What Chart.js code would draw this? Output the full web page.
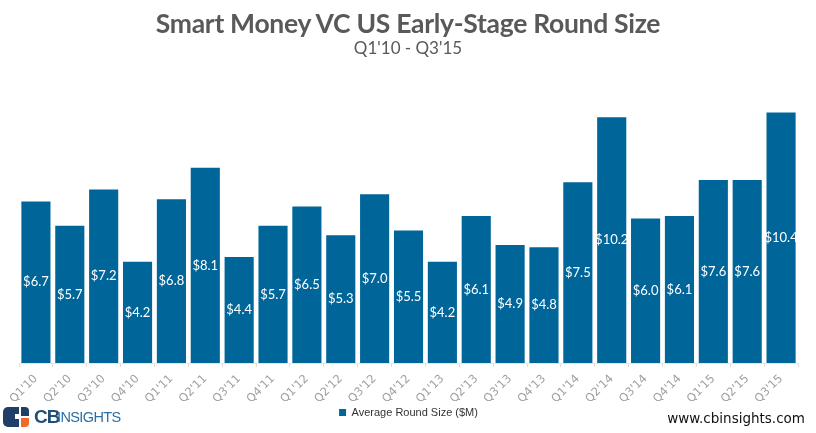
<!DOCTYPE html>
<html>
<head>
<meta charset="utf-8">
<script src="https://cdn.jsdelivr.net/npm/chart.js@4.4.1/dist/chart.umd.min.js"></script>
<style>
  html, body { margin: 0; padding: 0; background: #fff; }
  #wrap { position: relative; width: 816px; height: 433px; overflow: hidden; }
  #chart { position: absolute; left: 0; top: 0; }
  .title { position: absolute; left: 0; width: 816px; text-align: center; color: #595959; font-family: Lato, "Open Sans", sans-serif; }
  #t1 { top: 7px; font-size: 26.5px; font-weight: bold; letter-spacing: -0.3px; }
  #t2 { top: 37px; font-size: 17px; }
  #site { position: absolute; right: 11px; top: 410px; font-family: "DejaVu Sans", sans-serif; font-size: 13.5px; color: #111; }
  #logo { position: absolute; left: 3px; top: 405px; width: 110px; height: 24px; }
  #logo .cb { position: absolute; left: 31px; top: 1px; font-family: "Liberation Sans", Arial, sans-serif; font-weight: bold; font-size: 19px; color: #1f4e79; letter-spacing: -1px; }
  #logo .ins { position: absolute; left: 54px; top: 4px; font-family: "Liberation Sans", Arial, sans-serif; font-size: 14.5px; color: #2a6fa8; letter-spacing: -0.6px; }
</style>
</head>
<body>
<div id="wrap">
  <canvas id="chart" width="816" height="433"></canvas>
  <div class="title" id="t1">Smart Money VC US Early-Stage Round Size</div>
  <div class="title" id="t2">Q1'10 - Q3'15</div>
  <div id="logo">
    <svg width="27" height="22" style="position:absolute;left:0;top:1px">
      <rect x="0" y="1" width="16" height="20" rx="5" fill="#1f3f66"/>
      <rect x="9" y="1" width="7" height="20" fill="#1f3f66"/>
      <path d="M18 1 H22 A4 4 0 0 1 26 5 V10 H18 Z" fill="#1f3f66"/>
      <path d="M18 12 H26 V17 A4 4 0 0 1 22 21 H18 Z" fill="#f26a2a"/>
      <rect x="12" y="8" width="6" height="5" fill="#ffffff"/>
    </svg>
    <span class="cb">CB</span><span class="ins">INSIGHTS</span>
  </div>
  <div id="site">www.cbinsights.com</div>
</div>
<script>
const categories = ["Q1'10","Q2'10","Q3'10","Q4'10","Q1'11","Q2'11","Q3'11","Q4'11","Q1'12","Q2'12","Q3'12","Q4'12","Q1'13","Q2'13","Q3'13","Q4'13","Q1'14","Q2'14","Q3'14","Q4'14","Q1'15","Q2'15","Q3'15"];
const roundSize = [6.7,5.7,7.2,4.2,6.8,8.1,4.4,5.7,6.5,5.3,7.0,5.5,4.2,6.1,4.9,4.8,7.5,10.2,6.0,6.1,7.6,7.6,10.4];
const seriesName = "Average Round Size ($M)";

const barLabels = {
  id: 'barLabels',
  afterDatasetsDraw(chart) {
    const ctx = chart.ctx;
    const meta = chart.getDatasetMeta(0);
    ctx.save();
    ctx.fillStyle = '#ffffff';
    ctx.font = '13px Lato, "Open Sans", sans-serif';
    ctx.textAlign = 'center';
    ctx.textBaseline = 'middle';
    meta.data.forEach((bar, i) => {
      const v = chart.data.datasets[0].data[i];
      ctx.fillText('$' + v.toFixed(1), bar.x, (bar.y + bar.base) / 2);
    });
    ctx.restore();
  }
};

new Chart(document.getElementById('chart'), {
  type: 'bar',
  data: {
    labels: categories,
    datasets: [{
      label: seriesName,
      data: roundSize,
      backgroundColor: '#00669a',
      borderWidth: 0,
      barPercentage: 0.86,
      categoryPercentage: 1.0
    }]
  },
  options: {
    responsive: false,
    animation: false,
    devicePixelRatio: 1,
    layout: { padding: { top: 98, left: 19, right: 18, bottom: 5 } },
    plugins: {
      title: { display: false },
      tooltip: { enabled: false },
      legend: {
        display: true,
        position: 'bottom',
        labels: {
          boxWidth: 7, boxHeight: 7, padding: 6,
          color: '#333333',
          font: { family: '"Liberation Sans", Arial, sans-serif', size: 11 }
        }
      }
    },
    scales: {
      x: {
        grid: { display: true, drawOnChartArea: false, offset: true, color: '#dddddd', tickLength: 4, drawTicks: true },
        border: { display: true, color: '#e6e6e6' },
        ticks: {
          color: '#a0a0a0', minRotation: 45, maxRotation: 45, autoSkip: false, padding: 5,
          font: { family: '"DejaVu Sans", sans-serif', size: 11.5 }
        },
        afterFit(scale) { scale.height = 38; }
      },
      y: {
        display: false,
        min: 0, max: 11
      }
    }
  },
  plugins: [barLabels]
});
</script>
</body>
</html>
